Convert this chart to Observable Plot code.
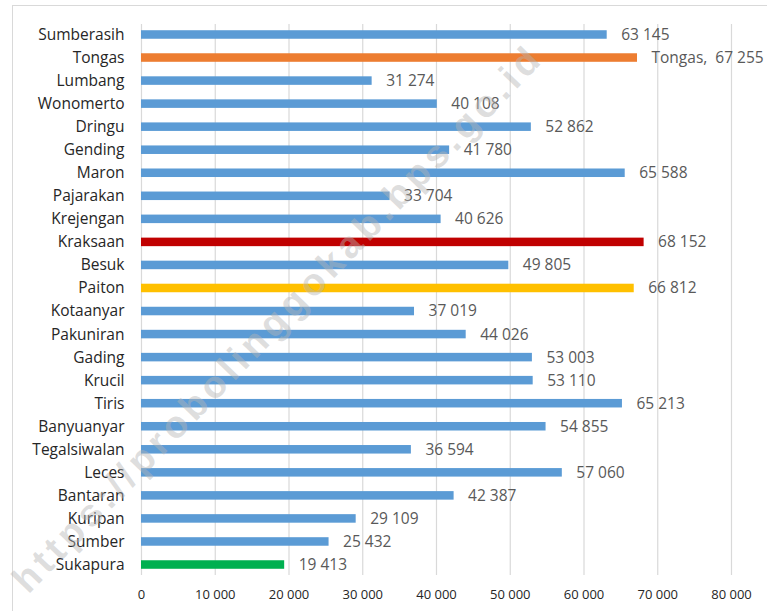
<!DOCTYPE html>
<html>
<head>
<meta charset="utf-8">
<script src="https://cdn.jsdelivr.net/npm/d3@7"></script>
<script src="https://cdn.jsdelivr.net/npm/@observablehq/plot@0.6"></script>
<style>
  html, body { margin: 0; padding: 0; background: #fff; }
  #wrap { position: relative; width: 767px; height: 611px; overflow: hidden; }
  #border { position: absolute; left: 12px; top: 5px; width: 800px; height: 700px; border: 1.5px solid #d9d9d9; box-sizing: border-box; }
  #chart { position: absolute; left: 0; top: 0; }
</style>
</head>
<body>
<div id="wrap">
  <div id="border"></div>
  <div id="chart"></div>
</div>
<script>
const districts = ["Sumberasih","Tongas","Lumbang","Wonomerto","Dringu","Gending","Maron","Pajarakan","Krejengan","Kraksaan","Besuk","Paiton","Kotaanyar","Pakuniran","Gading","Krucil","Tiris","Banyuanyar","Tegalsiwalan","Leces","Bantaran","Kuripan","Sumber","Sukapura"];
const population = [63145,67255,31274,40108,52862,41780,65588,33704,40626,68152,49805,66812,37019,44026,53003,53110,65213,54855,36594,57060,42387,29109,25432,19413];
const barColors = ["#5B9BD5","#ED7D31","#5B9BD5","#5B9BD5","#5B9BD5","#5B9BD5","#5B9BD5","#5B9BD5","#5B9BD5","#C00000","#5B9BD5","#FFC000","#5B9BD5","#5B9BD5","#5B9BD5","#5B9BD5","#5B9BD5","#5B9BD5","#5B9BD5","#5B9BD5","#5B9BD5","#5B9BD5","#5B9BD5","#00B050"];
const xTicks = [0,10000,20000,30000,40000,50000,60000,70000,80000];
const labelPrefix = {"Tongas": "Tongas,  "};
const watermark = "https://probolinggokab.bps.go.id";

const fmt = v => d3.format(",")(v).replace(/,/g, " ");
const data = districts.map((d, i) => ({district: d, value: population[i], color: barColors[i], label: (labelPrefix[d] || "") + fmt(population[i])}));

const chart = Plot.plot({
  width: 767,
  height: 611,
  marginLeft: 141,
  marginRight: 36,
  marginTop: 24,
  marginBottom: 36,
  style: {fontFamily: "'Open Sans', 'Liberation Sans', sans-serif", background: "transparent", color: "#262626"},
  x: {domain: [0, 80000], ticks: xTicks, tickFormat: fmt, label: null},
  y: {domain: districts, paddingInner: 0.63, paddingOuter: 0.27, round: false, label: null},
  color: {type: "identity"},
  marks: [
    Plot.ruleX(xTicks, {stroke: "#d9d9d9", strokeWidth: 1.2}),
    Plot.barX(data, {x: "value", y: "district", fill: "color"}),
    Plot.text(data, {x: "value", y: "district", text: "label", textAnchor: "start", dx: 14, fill: "#595959", fontSize: 15.5}),
    Plot.axisY({tickSize: 0, tickPadding: 17, fontSize: 15.5, label: null}),
    Plot.axisX({ticks: xTicks, tickFormat: fmt, tickSize: 0, tickPadding: 14, fontSize: 13, label: null})
  ]
});
document.getElementById("chart").appendChild(chart);

d3.select(chart).append("text")
  .attr("transform", "translate(278,322) rotate(-46)")
  .attr("text-anchor", "middle")
  .attr("dominant-baseline", "middle")
  .attr("textLength", 740)
  .attr("lengthAdjust", "spacing")
  .attr("font-size", 38)
  .attr("font-weight", "bold")
  .attr("font-family", "'Liberation Sans', sans-serif")
  .attr("fill", "#b5b5b5")
  .attr("fill-opacity", 0.45)
  .text(watermark);
</script>
</body>
</html>
